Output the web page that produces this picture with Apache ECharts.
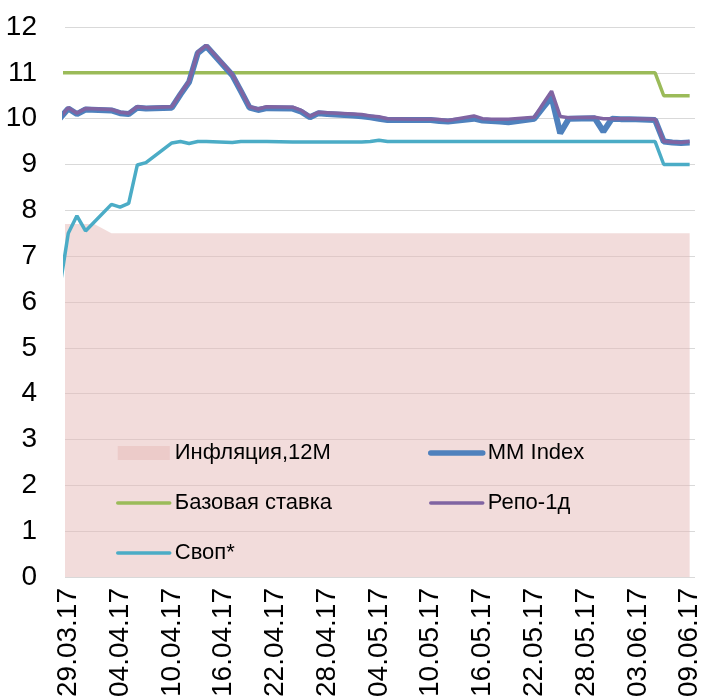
<!DOCTYPE html>
<html>
<head>
<meta charset="utf-8">
<script src="https://cdn.jsdelivr.net/npm/echarts@6/dist/echarts.min.js"></script>
<style>
html,body{margin:0;padding:0;background:#fff;}
#chart{width:704px;height:700px;}
</style>
</head>
<body>
<div id="chart"></div>
<script>
// Days counted from 29.03.2017 (day 0)
const tickDays = [0, 6, 12, 18, 24, 30, 36, 42, 48, 54, 60, 66, 72];
const tickLabels = ['29.03.17','04.04.17','10.04.17','16.04.17','22.04.17','28.04.17','04.05.17','10.05.17','16.05.17','22.05.17','28.05.17','03.06.17','09.06.17'];

const days = [-1,0,1,2,5,6,7,8,9,12,13,14,15,16,19,20,21,22,23,26,27,28,29,30,33,34,35,36,37,40,41,42,43,44,47,48,49,50,51,54,55,56,57,58,61,62,63,64,65,68,69,70,71,72];

const mmIndex = [10.0,10.22,10.1,10.2,10.18,10.12,10.1,10.24,10.22,10.24,10.53,10.8,11.43,11.58,10.95,10.6,10.24,10.19,10.23,10.22,10.15,10.03,10.12,10.1,10.07,10.05,10.03,10.0,9.97,9.97,9.97,9.97,9.95,9.94,10.0,9.96,9.95,9.94,9.92,10.0,10.24,10.47,9.68,10.0,10.01,9.72,10.0,9.99,9.99,9.97,9.5,9.48,9.47,9.48];

const repo = [10.02,10.24,10.12,10.22,10.2,10.14,10.12,10.26,10.24,10.26,10.55,10.82,11.45,11.6,10.97,10.62,10.26,10.21,10.26,10.25,10.18,10.05,10.14,10.13,10.1,10.09,10.06,10.04,10.0,9.99,9.99,9.99,9.98,9.96,10.06,10.0,9.99,9.99,9.99,10.03,10.32,10.6,10.05,10.02,10.03,10.0,10.0,10.0,10.0,9.99,9.5,9.49,9.48,9.5];

const swap = [6.3,7.5,7.88,7.55,8.13,8.07,8.15,8.99,9.04,9.47,9.5,9.46,9.5,9.5,9.48,9.5,9.5,9.5,9.5,9.49,9.49,9.49,9.49,9.49,9.49,9.49,9.5,9.53,9.5,9.5,9.5,9.5,9.5,9.5,9.5,9.5,9.5,9.5,9.5,9.5,9.5,9.5,9.5,9.5,9.5,9.5,9.5,9.5,9.5,9.5,9.0,9.0,9.0,9.0];

const baseRate = [11,11,11,11,11,11,11,11,11,11,11,11,11,11,11,11,11,11,11,11,11,11,11,11,11,11,11,11,11,11,11,11,11,11,11,11,11,11,11,11,11,11,11,11,11,11,11,11,11,11,10.5,10.5,10.5,10.5];

const inflDays = [-1, 3, 5, 72];
const inflation = [7.7, 7.7, 7.5, 7.5];

const names = ['Инфляция,12М', 'MM Index', 'Базовая ставка', 'Репо-1д', 'Своп*'];

const pairs = (xs, ys) => xs.map((d, i) => [d, ys[i]]);
const font = "'Liberation Sans', Arial, sans-serif";
const noSym = { opacity: 0 };

const chart = echarts.init(document.getElementById('chart'));
chart.setOption({
  animation: false,
  backgroundColor: '#ffffff',
  grid: { left: 65, right: 9, top: 27, bottom: 121, containLabel: false },
  xAxis: {
    type: 'value',
    min: -0.38,
    max: 72.62,
    axisLine: { show: false },
    axisTick: { show: false },
    splitLine: { show: false },
    axisLabel: {
      customValues: tickDays,
      rotate: 90,
      margin: 11,
      color: '#000',
      fontSize: 28,
      fontFamily: font,
      formatter: (v) => {
        const i = tickDays.indexOf(Math.round(v));
        return i >= 0 ? tickLabels[i] : '';
      }
    }
  },
  yAxis: {
    type: 'value',
    min: 0,
    max: 12,
    interval: 1,
    axisLine: { show: false },
    axisTick: { show: false },
    splitLine: { show: true, lineStyle: { color: '#d9d9d9', width: 1 } },
    axisLabel: { color: '#000', fontSize: 28, fontFamily: font, margin: 28 }
  },
  legend: [
    {
      orient: 'vertical', left: 116, top: 442, padding: 0,
      itemGap: 28, itemWidth: 52, itemHeight: 14,
      textStyle: { fontSize: 22, fontFamily: font, color: '#000' },
      data: [
        { name: names[0], icon: 'rect', itemStyle: { color: 'rgba(230,185,184,0.5)', opacity: 1 } },
        { name: names[2], itemStyle: noSym, lineStyle: { width: 3.5, cap: 'round' } },
        { name: names[4], itemStyle: noSym, lineStyle: { width: 3.5, cap: 'round' } }
      ]
    },
    {
      orient: 'vertical', left: 428, top: 442, padding: 0,
      itemGap: 28, itemWidth: 52, itemHeight: 14,
      textStyle: { fontSize: 22, fontFamily: font, color: '#000' },
      data: [
        { name: names[1], itemStyle: noSym, lineStyle: { width: 5.5, cap: 'round' } },
        { name: names[3], itemStyle: noSym, lineStyle: { width: 3.5, cap: 'round' } }
      ]
    }
  ],
  series: [
    {
      name: names[0], type: 'line', data: pairs(inflDays, inflation),
      symbol: 'none', lineStyle: { width: 0, color: 'rgba(230,185,184,0.5)' },
      itemStyle: { color: 'rgba(230,185,184,0.5)' },
      areaStyle: { color: '#e6b9b8', opacity: 0.5 }, silent: true
    },
    {
      name: names[2], type: 'line', data: pairs(days, baseRate), symbol: 'none',
      lineStyle: { width: 3.5, color: '#9bbb59' }, itemStyle: { color: '#9bbb59' }
    },
    {
      name: names[4], type: 'line', data: pairs(days, swap), symbol: 'none',
      lineStyle: { width: 3.5, color: '#4bacc6' }, itemStyle: { color: '#4bacc6' }
    },
    {
      name: names[1], type: 'line', data: pairs(days, mmIndex), symbol: 'none',
      lineStyle: { width: 6, color: '#4f81bd' }, itemStyle: { color: '#4f81bd' }
    },
    {
      name: names[3], type: 'line', data: pairs(days, repo), symbol: 'none',
      lineStyle: { width: 3.5, color: '#8064a2' }, itemStyle: { color: '#8064a2' }
    }
  ]
});
</script>
</body>
</html>
